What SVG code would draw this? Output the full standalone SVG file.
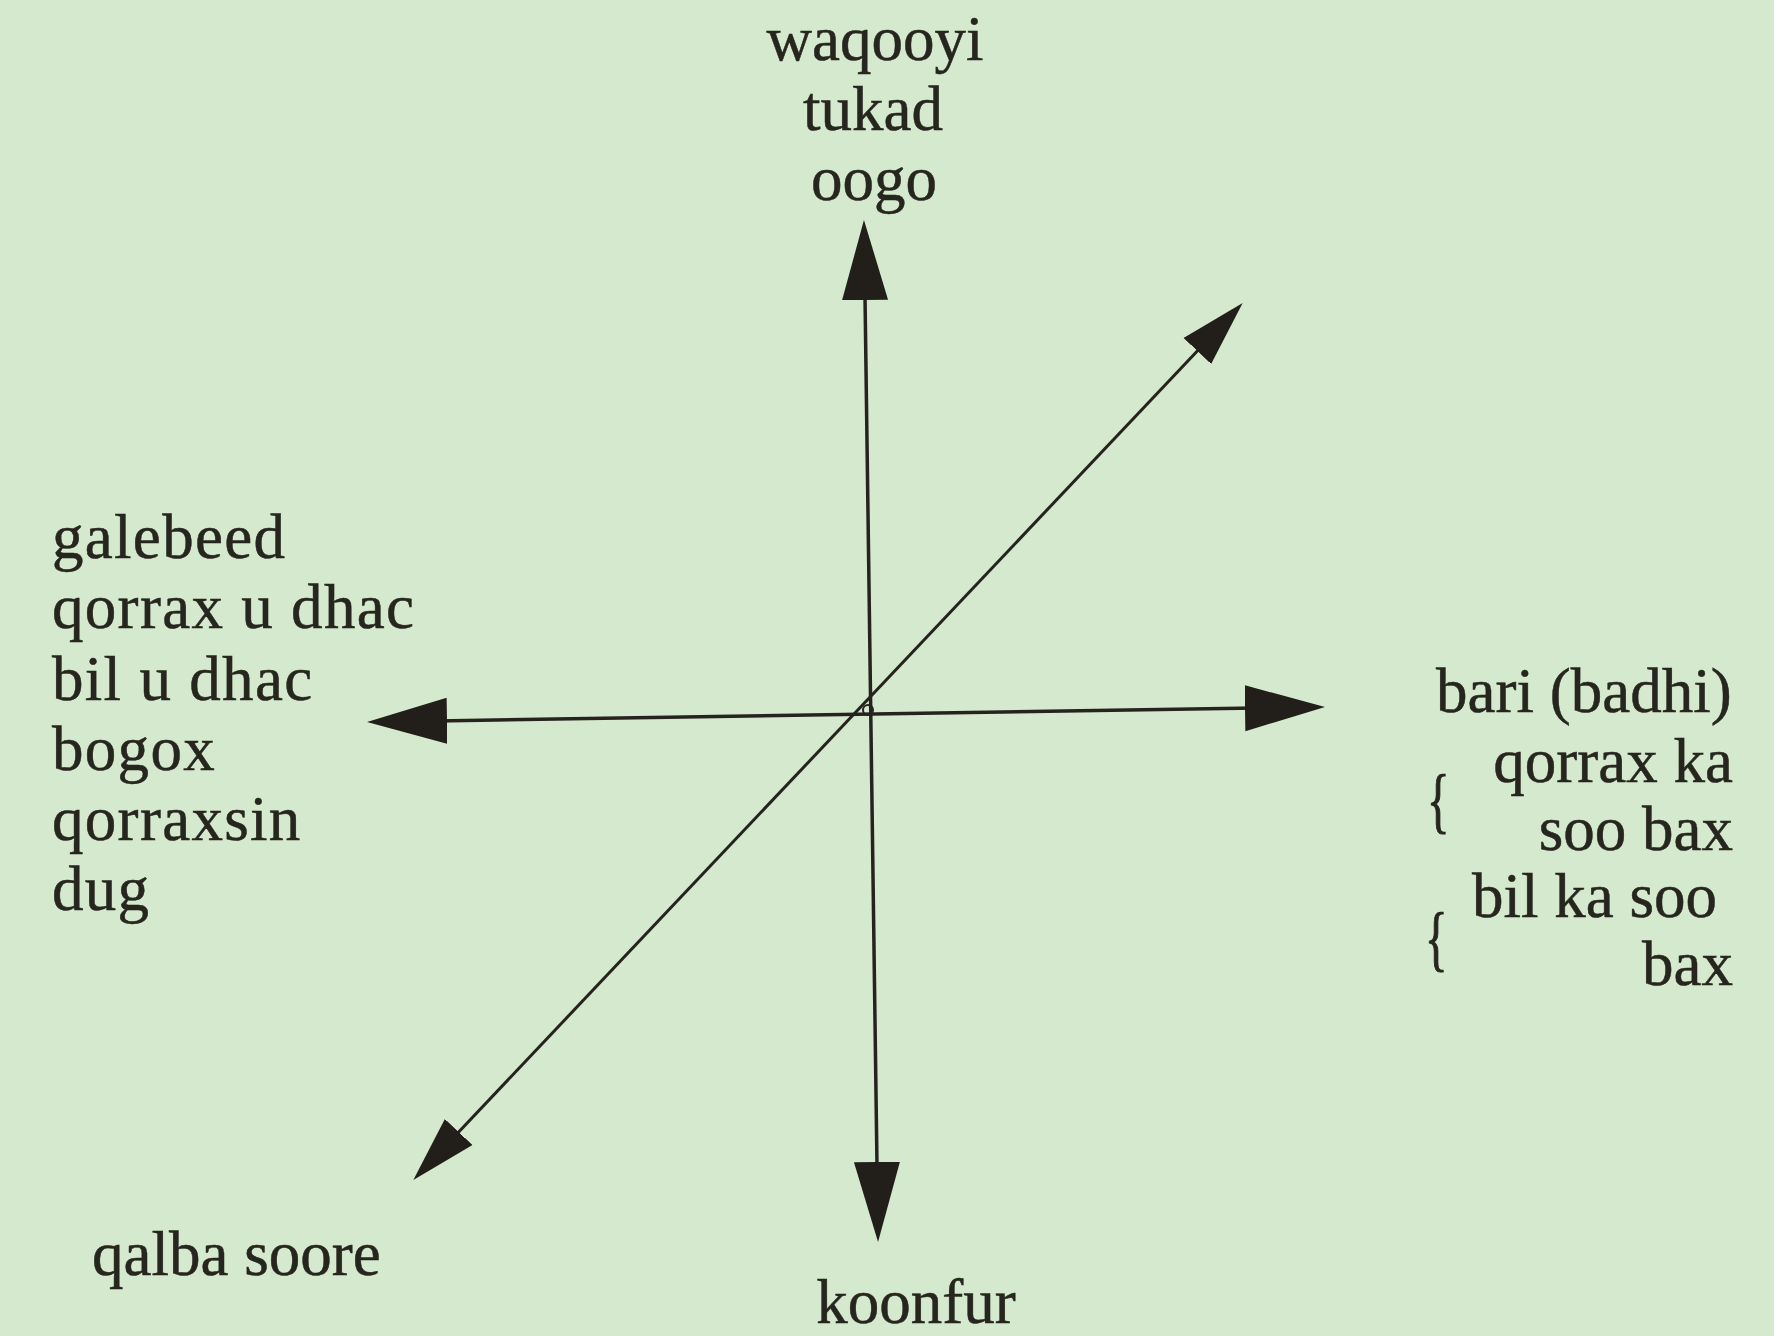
<svg xmlns="http://www.w3.org/2000/svg" width="1774" height="1336" viewBox="0 0 1774 1336">
  <style>
    .lbl { font-family: "Liberation Serif", "Times New Roman", serif; font-size: 63px; fill: #26261f; stroke: #26261f; stroke-width: 0.5; }
    .wide { letter-spacing: 1.3px; }
    .mid { text-anchor: middle; }
    .end { text-anchor: end; }
    .brace { font-family: "Liberation Serif", "Times New Roman", serif; font-size: 72px; fill: #26261f; stroke: #26261f; stroke-width: 1.2; }
    .axis { stroke: #26231e; stroke-width: 3.5; fill: none; }
    .diag { stroke: #26231e; stroke-width: 3; fill: none; }
  </style>
  <defs>
    <marker id="bigArrow" markerUnits="userSpaceOnUse" markerWidth="82" markerHeight="50" viewBox="0 -25 82 50" refX="40" refY="0" orient="auto-start-reverse">
      <path d="M0,-23 L80,0 L0,23 Z" fill="#221f1a"/>
    </marker>
    <marker id="smallArrow" markerUnits="userSpaceOnUse" markerWidth="68" markerHeight="42" viewBox="0 -21 68 42" refX="33" refY="0" orient="auto-start-reverse">
      <path d="M0,-19 L66,0 L0,19 Z" fill="#221f1a"/>
    </marker>
  </defs>
  <rect x="0" y="0" width="1774" height="1336" fill="#d4e9cd"/>

  <g id="connectors">
    <line class="axis" x1="864.5" y1="260" x2="877.5" y2="1202" marker-start="url(#bigArrow)" marker-end="url(#bigArrow)"/>
    <line class="axis" x1="407" y1="721.4" x2="1285" y2="707.6" marker-start="url(#bigArrow)" marker-end="url(#bigArrow)"/>
    <line class="diag" x1="436" y1="1156" x2="1220" y2="327" marker-start="url(#smallArrow)" marker-end="url(#smallArrow)"/>
    <circle cx="868" cy="710" r="5" fill="none" stroke="#26231e" stroke-width="2"/>
  </g>

  <g id="north">
    <text class="lbl mid" x="875" y="60">waqooyi</text>
    <text class="lbl mid" x="873" y="130">tukad</text>
    <text class="lbl mid" x="874" y="200">oogo</text>
  </g>

  <g id="west">
    <text class="lbl wide" x="52" y="558">galebeed</text>
    <text class="lbl wide" x="52" y="628">qorrax u dhac</text>
    <text class="lbl wide" x="52" y="700">bil u dhac</text>
    <text class="lbl wide" x="52" y="770">bogox</text>
    <text class="lbl wide" x="52" y="840">qorraxsin</text>
    <text class="lbl wide" x="52" y="910">dug</text>
  </g>

  <g id="east">
    <text class="lbl" x="1436" y="712">bari (badhi)</text>
    <text class="brace" transform="translate(1427,824) scale(0.65,1)">{</text>
    <text class="lbl end" x="1733" y="782">qorrax ka</text>
    <text class="lbl end" x="1733" y="850">soo bax</text>
    <text class="brace" transform="translate(1425,962) scale(0.65,1)">{</text>
    <text class="lbl end" x="1717" y="917">bil ka soo</text>
    <text class="lbl end" x="1733" y="985">bax</text>
  </g>

  <g id="southwest">
    <text class="lbl" x="92" y="1275">qalba soore</text>
  </g>

  <g id="south">
    <text class="lbl mid" x="916" y="1323">koonfur</text>
  </g>
</svg>
